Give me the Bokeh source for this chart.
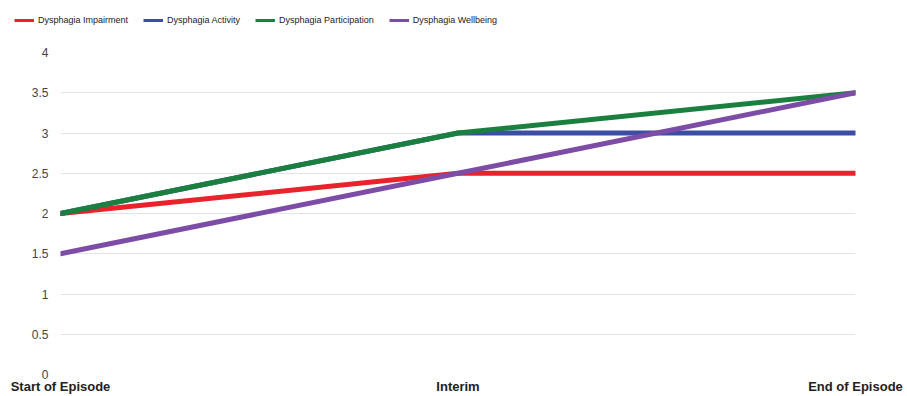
from bokeh.plotting import figure
from bokeh.models import Legend, LegendItem, FixedTicker, Range1d
from bokeh.layouts import column, row
from bokeh.embed import file_html
from bokeh.resources import INLINE

categories = ["Start of Episode", "Interim", "End of Episode"]
impairment = [2, 2.5, 2.5]
activity = [2, 3, 3]
participation = [2, 3, 3.5]
wellbeing = [1.5, 2.5, 3.5]
series_names = ["Dysphagia Impairment", "Dysphagia Activity",
                "Dysphagia Participation", "Dysphagia Wellbeing"]
y_ticks = [0, 0.5, 1, 1.5, 2, 2.5, 3, 3.5, 4]

colors = ["#e8232b", "#3b4ea3", "#1b803f", "#7d4ca6"]
xs = list(range(len(categories)))
all_series = [impairment, activity, participation, wellbeing]

# Legend strip (series drawn out of view; only the legend is visible)
lg = figure(width=907, height=40, output_backend="svg", toolbar_location=None,
            x_range=Range1d(100, 101), y_range=Range1d(100, 101),
            x_axis_location=None, y_axis_location=None)
lg.min_border_left = 0
lg.min_border_right = 0
lg.min_border_top = 0
lg.min_border_bottom = 0
lg.outline_line_color = None
lg.xgrid.grid_line_color = None
lg.ygrid.grid_line_color = None
legend_renderers = [lg.line(xs, vals, line_color=c, line_width=3)
                    for vals, c in zip(all_series, colors)]
legend = Legend(items=[LegendItem(label=n, renderers=[r]) for n, r in zip(series_names, legend_renderers)],
                orientation="horizontal", location=(14, 14))
legend.label_text_font = "Liberation Sans"
legend.label_text_font_size = "9px"
legend.label_text_color = "#222222"
legend.glyph_width = 20
legend.glyph_height = 12
legend.label_height = 12
legend.label_standoff = 4
legend.spacing = 15
legend.padding = 4
legend.margin = 0
legend.border_line_color = None
legend.background_fill_alpha = 0
lg.add_layout(legend, "center")

# Main chart
p = figure(width=907, height=356, output_backend="svg", toolbar_location=None,
           x_range=Range1d(0, 2), y_range=Range1d(0, 4))
p.min_border_left = 60
p.min_border_right = 52
p.min_border_bottom = 21
p.min_border_top = 12
p.outline_line_color = None
p.background_fill_color = "white"
p.border_fill_color = "white"

for vals, c in zip(all_series, colors):
    p.line(xs, vals, line_color=c, line_width=5, line_cap="round", line_join="round")

p.xaxis.ticker = FixedTicker(ticks=xs)
p.xaxis.major_label_overrides = {i: c for i, c in enumerate(categories)}
p.xaxis.axis_line_color = None
p.xaxis.major_tick_line_color = None
p.xaxis.minor_tick_line_color = None
p.xaxis.major_tick_in = 0
p.xaxis.major_tick_out = 0
p.xaxis.major_label_text_font = "Liberation Sans"
p.xaxis.major_label_text_font_style = "bold"
p.xaxis.major_label_text_font_size = "13px"
p.xaxis.major_label_text_color = "#222222"
p.xaxis.major_label_standoff = 4

p.yaxis.ticker = FixedTicker(ticks=y_ticks)
p.yaxis.axis_line_color = None
p.yaxis.major_tick_line_color = None
p.yaxis.minor_tick_line_color = None
p.yaxis.major_tick_in = 0
p.yaxis.major_tick_out = 0
p.yaxis.major_label_text_font = "Liberation Sans"
p.yaxis.major_label_text_font_size = "12px"
p.yaxis.major_label_text_color = "#444444"
p.yaxis.major_label_standoff = 12

p.xgrid.grid_line_color = None
p.ygrid.grid_line_color = "#e3e3e3"
p.ygrid.grid_line_width = 1

layout = column(row(lg, spacing=0), p, spacing=0)
open("out.html", "w").write(file_html(layout, INLINE))
